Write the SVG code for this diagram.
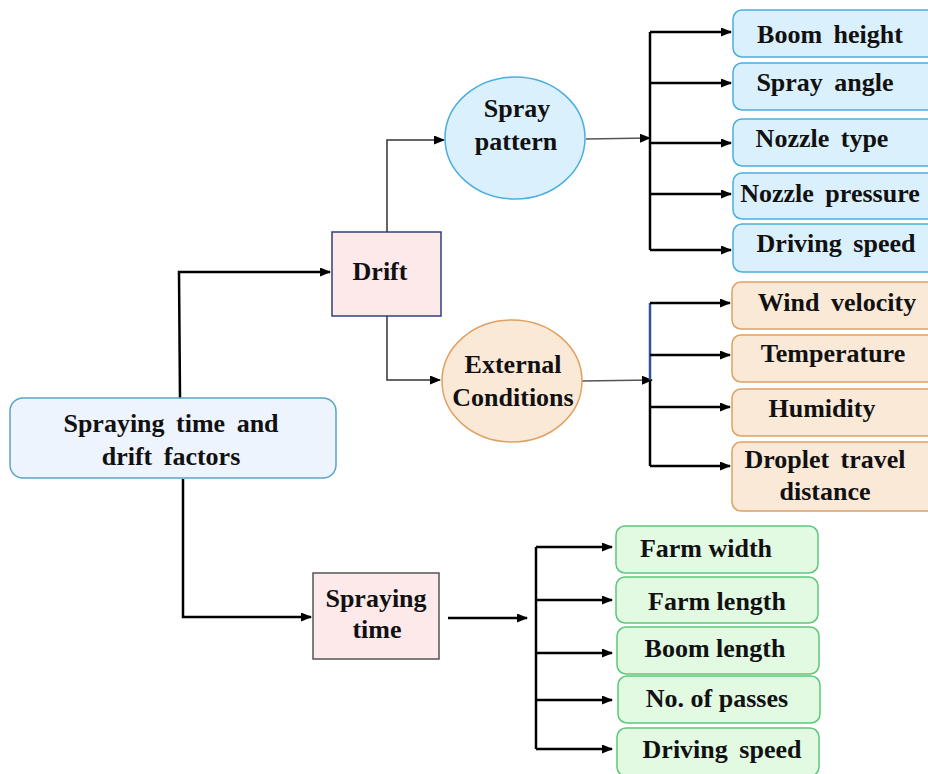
<svg xmlns="http://www.w3.org/2000/svg" width="928" height="774" viewBox="0 0 928 774">
  <defs>
    <marker id="arrow" markerUnits="userSpaceOnUse" markerWidth="11" markerHeight="9" refX="10" refY="4.5" orient="auto">
      <path d="M0,0 L11,4.5 L0,9 z" fill="#000"/>
    </marker>
    <style>
      text { font-family: "Liberation Serif", "Times New Roman", serif; font-weight: bold; font-size: 26px; fill: #111; text-anchor: middle; }
      .conn { fill: none; stroke: #000; stroke-width: 2.5; }
      .thin { fill: none; stroke: #333; stroke-width: 1.5; }
      .gray { fill: none; stroke: #555; stroke-width: 1.6; }
      .root { fill: #eef4fe; stroke: #5ba3c9; stroke-width: 1.5; }
      .mid { fill: #fde9ea; stroke-width: 1.5; }
      .blue { fill: #daf0fc; stroke: #4aaee0; stroke-width: 1.5; }
      .orange { fill: #fbe9d8; stroke: #e0a060; stroke-width: 1.5; }
      .green { fill: #e2f9e2; stroke: #5cc77a; stroke-width: 1.5; }
      .ws { word-spacing: 5px; }
    </style>
  </defs>

  <!-- connectors -->
  <g id="connectors">
    <!-- root to Drift -->
    <polyline class="conn" points="180,398 179,272 330,272" marker-end="url(#arrow)"/>
    <!-- root to Spraying time -->
    <polyline class="conn" points="183,479 183,617 311,617" marker-end="url(#arrow)"/>
    <!-- Drift to ellipses -->
    <polyline class="thin" points="387,232 387,140 444,140" marker-end="url(#arrow)"/>
    <polyline class="thin" points="387,316 387,380 440,380" marker-end="url(#arrow)"/>
    <!-- Spray pattern fan-out -->
    <line class="gray" x1="586" y1="139" x2="650" y2="138" marker-end="url(#arrow)"/>
    <line class="conn" x1="650" y1="32" x2="650" y2="250"/>
    <line class="conn" x1="650" y1="32" x2="731" y2="32" marker-end="url(#arrow)"/>
    <line class="conn" x1="650" y1="83" x2="731" y2="83" marker-end="url(#arrow)"/>
    <line class="conn" x1="650" y1="143" x2="731" y2="143" marker-end="url(#arrow)"/>
    <line class="conn" x1="650" y1="194" x2="731" y2="194" marker-end="url(#arrow)"/>
    <line class="conn" x1="650" y1="250" x2="731" y2="250" marker-end="url(#arrow)"/>
    <!-- External conditions fan-out -->
    <line class="gray" x1="582" y1="381" x2="652" y2="380" marker-end="url(#arrow)"/>
    <line x1="650" y1="303" x2="650" y2="380" stroke="#2f5597" stroke-width="2.5"/>
    <line class="conn" x1="650" y1="380" x2="650" y2="466"/>
    <line class="conn" x1="650" y1="303" x2="730" y2="303" marker-end="url(#arrow)"/>
    <line class="conn" x1="650" y1="355" x2="730" y2="355" marker-end="url(#arrow)"/>
    <line class="conn" x1="650" y1="407" x2="730" y2="407" marker-end="url(#arrow)"/>
    <line class="conn" x1="650" y1="466" x2="730" y2="466" marker-end="url(#arrow)"/>
    <!-- Spraying time fan-out -->
    <line class="conn" x1="448" y1="618" x2="527" y2="618" marker-end="url(#arrow)"/>
    <line class="conn" x1="536" y1="547" x2="536" y2="749"/>
    <line class="conn" x1="536" y1="547" x2="612" y2="547" marker-end="url(#arrow)"/>
    <line class="conn" x1="536" y1="600" x2="612" y2="600" marker-end="url(#arrow)"/>
    <line class="conn" x1="536" y1="653" x2="612" y2="653" marker-end="url(#arrow)"/>
    <line class="conn" x1="536" y1="700" x2="612" y2="700" marker-end="url(#arrow)"/>
    <line class="conn" x1="536" y1="749" x2="612" y2="749" marker-end="url(#arrow)"/>
  </g>

  <!-- root -->
  <g id="root">
    <rect class="root" x="10" y="398" width="326" height="80" rx="13"/>
    <text class="ws" x="171" y="432">Spraying time and</text>
    <text class="ws" x="171" y="465">drift factors</text>
  </g>

  <!-- second level -->
  <g id="drift">
    <rect class="mid" x="332" y="232" width="109" height="84" stroke="#2f3f7f"/>
    <text x="380" y="280">Drift</text>
  </g>
  <g id="spraying-time">
    <rect class="mid" x="313" y="573" width="126" height="86" stroke="#555"/>
    <text x="376" y="607">Spraying</text>
    <text x="377" y="638">time</text>
  </g>

  <!-- third level -->
  <g id="spray-pattern">
    <ellipse class="blue" cx="515" cy="138" rx="70" ry="61"/>
    <text x="517" y="117">Spray</text>
    <text x="516" y="150">pattern</text>
  </g>
  <g id="external-conditions">
    <ellipse class="orange" cx="512" cy="381" rx="70" ry="61"/>
    <text x="513" y="373">External</text>
    <text x="513" y="406">Conditions</text>
  </g>

  <!-- spray pattern factors -->
  <g id="boom-height">
    <rect class="blue" x="733" y="10" width="210" height="47" rx="9"/>
    <text class="ws" x="830" y="43">Boom height</text>
  </g>
  <g id="spray-angle">
    <rect class="blue" x="733" y="63" width="210" height="47" rx="9"/>
    <text class="ws" x="825" y="91">Spray angle</text>
  </g>
  <g id="nozzle-type">
    <rect class="blue" x="733" y="119" width="210" height="47" rx="9"/>
    <text class="ws" x="822" y="147">Nozzle type</text>
  </g>
  <g id="nozzle-pressure">
    <rect class="blue" x="733" y="173" width="210" height="46" rx="9"/>
    <text class="ws" x="830" y="202">Nozzle pressure</text>
  </g>
  <g id="driving-speed-1">
    <rect class="blue" x="733" y="224" width="210" height="48" rx="9"/>
    <text class="ws" x="836" y="252">Driving speed</text>
  </g>

  <!-- external condition factors -->
  <g id="wind-velocity">
    <rect class="orange" x="732" y="282" width="210" height="47" rx="9"/>
    <text class="ws" x="837" y="311">Wind velocity</text>
  </g>
  <g id="temperature">
    <rect class="orange" x="732" y="335" width="210" height="47" rx="9"/>
    <text x="833" y="362">Temperature</text>
  </g>
  <g id="humidity">
    <rect class="orange" x="732" y="389" width="210" height="47" rx="9"/>
    <text x="822" y="417">Humidity</text>
  </g>
  <g id="droplet-travel">
    <rect class="orange" x="732" y="442" width="210" height="69" rx="9"/>
    <text class="ws" x="825" y="468">Droplet travel</text>
    <text x="825" y="500">distance</text>
  </g>

  <!-- spraying time factors -->
  <g id="farm-width">
    <rect class="green" x="616" y="526" width="202" height="47" rx="9"/>
    <text x="706" y="557">Farm width</text>
  </g>
  <g id="farm-length">
    <rect class="green" x="616" y="577" width="202" height="46" rx="9"/>
    <text x="717" y="610">Farm length</text>
  </g>
  <g id="boom-length">
    <rect class="green" x="617" y="627" width="202" height="47" rx="9"/>
    <text x="715" y="657">Boom length</text>
  </g>
  <g id="passes">
    <rect class="green" x="618" y="676" width="202" height="47" rx="9"/>
    <text x="717" y="707">No. of passes</text>
  </g>
  <g id="driving-speed-2">
    <rect class="green" x="617" y="728" width="202" height="48" rx="9"/>
    <text class="ws" x="722" y="758">Driving speed</text>
  </g>
</svg>
